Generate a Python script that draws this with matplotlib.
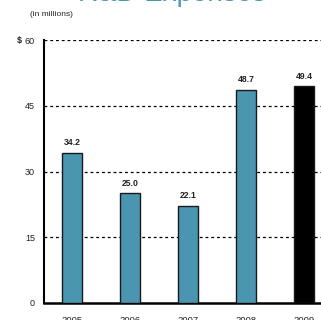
import matplotlib
matplotlib.use("Agg")
import matplotlib.pyplot as plt

years = ["2005", "2006", "2007", "2008", "2009"]
values = [34.2, 25.0, 22.1, 48.7, 49.4]
value_labels = ["34.2", "25.0", "22.1", "48.7", "49.4"]
yticks = [0, 15, 30, 45, 60]
ytick_labels = ["0", "15", "30", "45", "60"]
colors = ["#4a96b0", "#4a96b0", "#4a96b0", "#4a96b0", "#000000"]

plt.rcParams['font.family'] = ['Liberation Sans', 'DejaVu Sans']

fig = plt.figure(figsize=(3.21, 3.20), dpi=100)
ax = fig.add_axes([44/321, 17/320, 294.8/321, 263/320])

x = list(range(len(years)))
ax.bar(x, values, width=0.33, color=colors, edgecolor="#1a1a1a", linewidth=1.0, zorder=3)
for xi, v, lab in zip(x, values, value_labels):
    ax.text(xi, v + 1.3, lab, ha="center", va="bottom", fontsize=6.2, fontweight="bold", color="#222222")

ax.set_xlim(-0.483, 4.6)
ax.set_ylim(0, 60)
ax.set_yticks(yticks)
ax.set_yticklabels(ytick_labels, fontsize=6.5, color="#222222")
ax.set_xticks(x)
ax.set_xticklabels(years, fontsize=6.8, color="#222222")
ax.tick_params(axis="y", length=0, pad=6.5)
ax.tick_params(axis="x", length=0, pad=9.5)

for yv in [15, 30, 45, 60]:
    ax.axhline(yv, color="black", linestyle=(0, (2.3, 2.3)), linewidth=0.9, zorder=1)

ax.spines["top"].set_visible(False)
ax.spines["right"].set_visible(False)
ax.spines["left"].set_linewidth(1.5)
ax.spines["bottom"].set_linewidth(1.8)

fig.text(17/321, 1 - 40/320, "$", fontsize=6.5, fontweight="bold", ha="left", va="center", color="#222222")
fig.text(51/321, 1 - 15/320, "(in millions)", fontsize=6, ha="center", va="center", color="#222222")
fig.text(172/321, 1 - 1.0/320, "R&D Expenses", fontsize=20, ha="center", va="baseline", color="#4a97b1")

fig.savefig("out.png", dpi=100)
